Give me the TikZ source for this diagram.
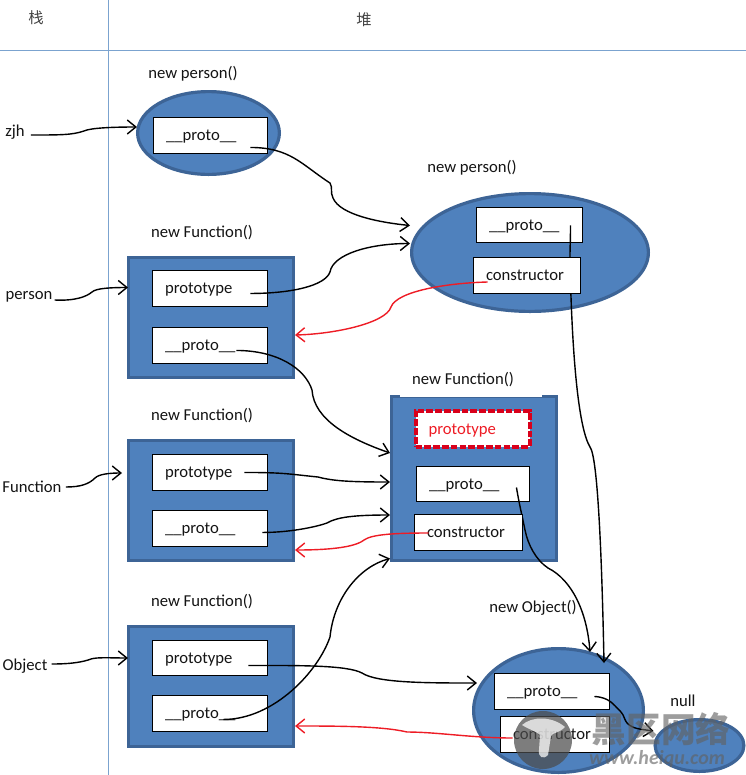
\documentclass[tikz,border=0pt]{standalone}
\usepackage{fontspec}
\setmainfont{Carlito}
\newfontfamily\cjk{Noto Sans CJK SC}
\usetikzlibrary{arrows.meta,shapes.geometric}
\definecolor{fillblue}{HTML}{4F81BD}
\definecolor{edgeblue}{HTML}{3D6496}
\definecolor{ruleblue}{HTML}{7BA3CF}
\definecolor{redline}{HTML}{EE1C25}
\definecolor{dashred}{HTML}{D9001B}
\definecolor{txt}{HTML}{141414}
\tikzset{
  rule/.style={draw=ruleblue,line width=0.75pt},
  blob/.style={draw=edgeblue,fill=fillblue,line width=2.4pt,inner sep=0pt},
  field/.style={draw=black,fill=white,line width=0.7pt,inner ysep=0pt,inner xsep=9.75pt,align=left,text=txt,font=\fontsize{12.5}{14}\selectfont},
  redfield/.style={field,draw=dashred,line width=3pt,dash pattern=on 5pt off 1.6pt,text=redline},
  lab/.style={text=txt,inner sep=0pt,font=\fontsize{12.5}{14}\selectfont},
  cjklab/.style={text=txt!80,inner sep=0pt,font=\cjk\fontsize{11.5}{13}\selectfont},
  link/.style={draw=black,line width=1.05pt,-{Straight Barb[length=6.5pt,width=10.5pt,line width=1.05pt]}},
  back/.style={draw=redline,line width=1.05pt,-{Straight Barb[length=6.5pt,width=10.5pt,line width=1.05pt]}},
  wmark/.style={text=black!62,opacity=.62,inner sep=0pt}
}
\newcommand{\rectblob}[5]{\node[blob,rectangle,minimum width={(#4-#2)*0.75pt-2.4pt},minimum height={(#5-#3)*0.75pt-2.4pt}] (#1) at ({(#2+#4)/2},{(#3+#5)/2}) {};}
\newcommand{\ovalblob}[5]{\node[blob,ellipse,minimum width={2*#4*0.75pt-2.4pt},minimum height={2*#5*0.75pt-2.4pt}] (#1) at (#2,#3) {};}
\newcommand{\fld}[7][field]{%
  \pgfmathsetmacro{\fw}{(#5-#3)*0.75-19.5}%
  \pgfmathsetmacro{\fh}{(#6-#4)*0.75}%
  \node[#1,text width=\fw pt,minimum height=\fh pt] (#2) at ({(#3+#5)/2},{(#4+#6)/2}) {\raisebox{0pt}[8.4pt][0pt]{#7}};}
\begin{document}
\begin{tikzpicture}[x=0.75pt,y=-0.75pt]
\useasboundingbox (0,0) rectangle (746,775);
\fill[white] (0,0) rectangle (746,775);
\coordinate (ruleL) at (0,50); \coordinate (ruleR) at (746,50);
\coordinate (ruleT) at (108,0); \coordinate (ruleB) at (108,775);
\draw[rule] (ruleL) -- (ruleR);
\draw[rule] (ruleT) -- (ruleB);

\node[cjklab] (tStack) at (36,18) {栈};
\node[cjklab] (tHeap) at (364,20) {堆};
\node[lab] (tPerson1) at (193,74) {new person()};
\node[lab] (tFn1) at (202,233) {new Function()};
\node[lab] (tFn2) at (202,416) {new Function()};
\node[lab] (tFn3) at (202,602) {new Function()};
\node[lab] (tPerson2) at (472,168) {new person()};
\node[lab] (tObj) at (533,608) {new Object()};
\node[lab] (tNull) at (683,701) {null};
\node[lab] (zjh) at (15,132) {zjh};
\node[lab] (person) at (29,297) {person};
\node[lab] (Function) at (32,487) {Function};
\node[lab] (Object) at (25,666) {Object};

\ovalblob{eA}{208.5}{133}{72.5}{43}
\rectblob{fA}{127}{256}{295}{379}
\rectblob{fB}{127}{439}{295}{562}
\rectblob{fC}{127}{625}{295}{748}
\ovalblob{eB}{530}{252.5}{120}{60.5}
\rectblob{fM}{390}{395}{558}{562}
\ovalblob{eO}{558.5}{710.5}{86.5}{63.5}
\ovalblob{eN}{699.5}{745.5}{46}{27.5}

\coordinate (gapA) at (400,384); \coordinate (gapB) at (542,397);
\fill[white] (gapA) rectangle (gapB);
\node[lab] (tFnM) at (463,380) {new Function()};

\fld{pA}{153}{117}{267}{153}{\_\_proto\_\_}
\fld{ptA}{152}{270}{267}{306}{prototype}
\fld{prA}{152}{327}{267}{363}{\_\_proto\_\_}
\fld{ptB}{152}{454}{267}{490}{prototype}
\fld{prB}{152}{510}{267}{546}{\_\_proto\_\_}
\fld{ptC}{152}{640}{267}{675}{prototype}
\fld{prC}{152}{695}{267}{731}{\_\_proto\_\_}
\fld{pB}{476}{207}{582}{242}{\_\_proto\_\_}
\fld[redfield]{ptM}{415.5}{410.5}{529.5}{446.5}{prototype}
\fld{prM}{416}{466}{529}{501}{\_\_proto\_\_}
\fld{pO}{494}{673}{609}{709}{\_\_proto\_\_}

% connectors that run behind the constructor boxes
\draw[link] ([shift={(-12,-17)}]pB.south east) .. controls +(0,25) and +(0,-25) .. ([shift={(41,20)}]pB.south) .. controls +(2,90) and +(-12,-20) .. ([shift={(116,52)}]fM.north) .. controls +(8,10) and +(-2,-100) .. ([shift={(45.5,16)}]eO.north);
\draw[link] ([shift={(-13,-14)}]prM.south east) .. controls +(3,18) and +(-3,-15) .. ([shift={(-33,-32)}]fM.south east) .. controls +(3,15) and +(-12,-8) .. ([shift={(-10,6)}]fM.south east) .. controls +(24,12) and +(-3,-40) .. ([shift={(31.5,5)}]eO.north);

\fld{cB}{473}{257}{580}{293}{constructor}
\fld{cM}{414}{514}{522.5}{550}{constructor}
\fld{cO}{500}{716}{609}{752}{constructor}

% stack references
\draw[link] ([shift={(6,3)}]zjh.east) .. controls +(30,0) and +(-12,4) .. (84,131) .. controls +(6,-3) and +(-25,0) .. ([shift={(1,-6)}]eA.west);
\draw[link] ([shift={(2,3)}]person.east) .. controls +(20,1) and +(-6,5) .. (92,292) .. controls +(4,-4) and +(-15,0) .. ([shift={(1,-30)}]fA.west);
\draw[link] ([shift={(4,0)}]Function.east) .. controls +(15,0) and +(-6,6) .. (95,478) .. controls +(4,-4) and +(-12,0) .. ([shift={(-5,-27.5)}]fB.west);
\draw[link] ([shift={(4,-2)}]Object.east) .. controls +(20,0) and +(-8,3) .. (91,659) .. controls +(6,-2) and +(-16,0) .. ([shift={(1,-28.5)}]fC.west);

% heap references
\draw[link] ([shift={(-17,-6)}]pA.south east) .. controls +(40,0) and +(-28,-18) .. (330,183) .. controls +(3,5) and +(-3,-6) .. (333,198) .. controls +(7,17) and +(-30,-3) .. ([shift={(0,-27)}]eB.west);
\draw[link] ([shift={(-17,-13)}]ptA.south east) .. controls +(40,0) and +(-5,14) .. (330,272) .. controls +(3,-18) and +(-40,0) .. ([shift={(0,-9)}]eB.west);
\draw[link] ([shift={(-31,-13)}]prA.south east) .. controls +(40,0) and +(-7,-22) .. (312,390) .. controls +(2,30) and +(-40,-14) .. ([shift={(0,-25.5)}]fM.west);
\draw[link] ([shift={(-23,-18)}]ptB.south east) .. controls +(40,0) and +(-30,-3) .. (318,477) .. controls +(15,4) and +(-40,0) .. ([shift={(0,3.5)}]fM.west);
\draw[link] ([shift={(-5,-14)}]prB.south east) .. controls +(30,0) and +(-8,3) .. (327,523) .. controls +(10,-6) and +(-35,0) .. ([shift={(0,36.5)}]fM.west);
\draw[link] ([shift={(-44,-12)}]prC.south east) .. controls +(50,0) and +(-12,35) .. (330,637) .. controls +(4,-40) and +(-30,8) .. ([shift={(0,80)}]fM.west);
\draw[link] ([shift={(-19,-10)}]ptC.south east) .. controls +(50,0) and +(-15,-8) .. (362,673) .. controls +(15,10) and +(-50,0) .. ([shift={(5,-27.5)}]eO.west);
\draw[link] ([shift={(-15,-13)}]pO.south east) .. controls +(15,1) and +(-8,-8) .. (621,712) .. controls +(4,5) and +(-4,-6) .. (627,723) .. controls +(6,6) and +(-14,-2) .. ([shift={(0,-14.5)}]eN.west);

% constructor back references
\draw[back] ([shift={(15,7)}]cB.west) .. controls +(-40,1) and +(6,-16) .. (391,307) .. controls +(-5,16) and +(40,-1) .. ([shift={(0,17.5)}]fA.east);
\draw[back] ([shift={(15,1)}]cM.west) .. controls +(-30,0) and +(8,-6) .. (364,540) .. controls +(-10,8) and +(30,0) .. ([shift={(0,49.5)}]fB.east);
\draw[back] ([shift={(13,4)}]cO.west) .. controls +(-40,0) and +(30,0) .. (407,732) .. controls +(-25,-6) and +(40,0) .. ([shift={(0,39.5)}]fC.east);

% site watermark
\node[wmark,font=\cjk\bfseries\fontsize{26}{26}\selectfont] (wmA) at (661,729) {黑区网络};
\node[wmark,font=\bfseries\itshape\fontsize{15}{15}\selectfont] (wmB) at (657,759) {www.heiqu.com};
\node[circle,fill=black!70,opacity=.72,minimum size=43.5pt,inner sep=0pt] (logo) at (543,740) {};
\fill[white,opacity=.72] (522,725) .. controls (532,716) and (552,716) .. (565,727) .. controls (558,734) and (553,732) .. (551,736) -- (548,755) .. controls (543,760) and (538,757) .. (539,750) -- (540,735) .. controls (536,731) and (530,730) .. (522,725) -- cycle;
\end{tikzpicture}
\end{document}
